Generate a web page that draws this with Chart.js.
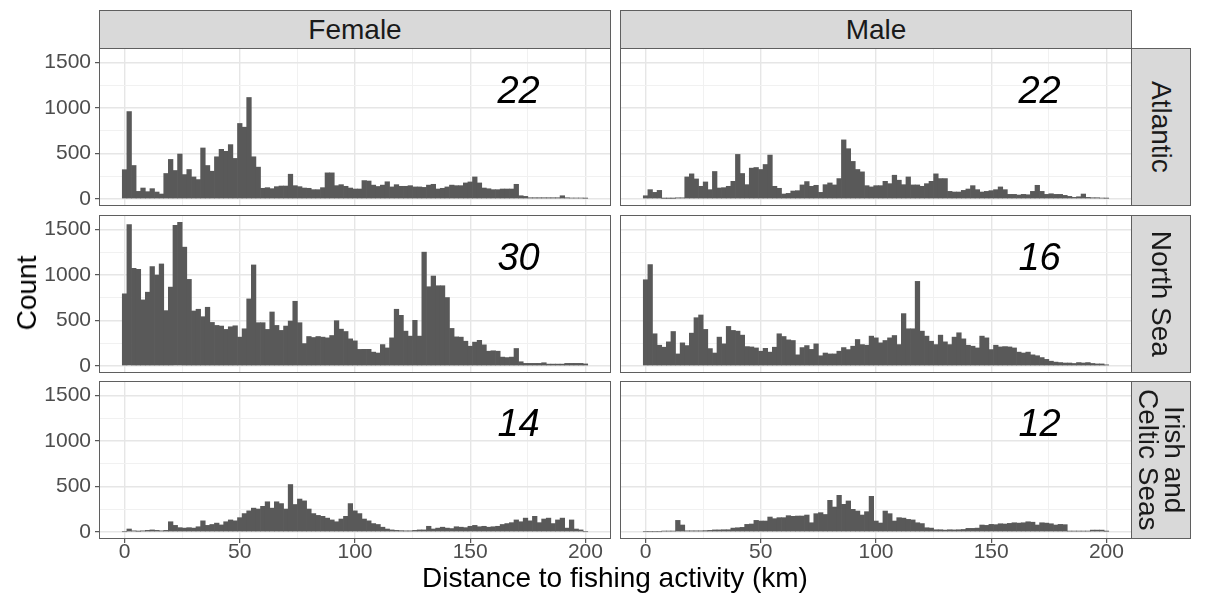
<!DOCTYPE html>
<html>
<head>
<meta charset="utf-8">
<script src="https://cdn.jsdelivr.net/npm/chart.js@4.4.1/dist/chart.umd.min.js"></script>
<style>
  body { margin: 0; background: #fff; font-family: "Liberation Sans", Arial, sans-serif; }
  #wrap { position: relative; width: 1211px; height: 599px; overflow: hidden; }
  canvas { position: absolute; }
  .strip {
    position: absolute; box-sizing: border-box; background: #d9d9d9;
    border: 1px solid #5f5f5f; color: #1a1a1a; font-size: 28px;
    display: flex; align-items: center; justify-content: center;
  }
  .strip span.v { transform: rotate(90deg); white-space: pre; text-align: center; line-height: 0.92; }
  .title { position: absolute; color: #000; font-size: 28px; white-space: nowrap; }
</style>
</head>
<body>
<div id="wrap"></div>
<script>
// histogram bins (2 km wide), counts per facet
const binCenters = [0, 2, 4, 6, 8, 10, 12, 14, 16, 18, 20, 22, 24, 26, 28, 30, 32, 34, 36, 38,
  40, 42, 44, 46, 48, 50, 52, 54, 56, 58, 60, 62, 64, 66, 68, 70, 72, 74, 76, 78,
  80, 82, 84, 86, 88, 90, 92, 94, 96, 98, 100, 102, 104, 106, 108, 110, 112, 114, 116, 118,
  120, 122, 124, 126, 128, 130, 132, 134, 136, 138, 140, 142, 144, 146, 148, 150, 152, 154, 156, 158,
  160, 162, 164, 166, 168, 170, 172, 174, 176, 178, 180, 182, 184, 186, 188, 190, 192, 194, 196, 198, 200];

const femaleAtlantic = [320, 960, 366, 81, 118, 78, 111, 74, 52, 278,
  433, 311, 492, 266, 322, 240, 211, 559, 366, 303,
  462, 544, 522, 596, 444, 829, 788, 1115, 462, 348,
  115, 122, 111, 133, 140, 140, 270, 144, 133, 118,
  115, 100, 100, 122, 285, 285, 144, 155, 137, 118,
  107, 107, 200, 195, 150, 135, 150, 187, 130, 155,
  137, 137, 144, 130, 130, 125, 150, 159, 107, 115,
  130, 150, 144, 144, 174, 185, 240, 174, 118, 110,
  100, 100, 107, 107, 107, 159, 33, 26, 11, 11,
  11, 11, 11, 11, 11, 33, 11, 8, 8, 8,
  5];

const maleAtlantic = [33, 100, 70, 92, 4, 4, 4, 10, 10, 240,
  274, 218, 137, 185, 100, 300, 118, 122, 137, 192,
  488, 278, 155, 337, 344, 322, 377, 481, 137, 115,
  52, 59, 85, 89, 152, 189, 137, 148, 70, 155,
  174, 152, 222, 648, 551, 411, 322, 296, 144, 130,
  144, 144, 192, 166, 259, 204, 155, 240, 152, 152,
  137, 166, 192, 274, 222, 222, 81, 74, 74, 92,
  107, 144, 100, 74, 81, 89, 100, 130, 100, 48,
  48, 41, 48, 44, 81, 148, 81, 48, 55, 48,
  48, 37, 26, 15, 22, 52, 15, 11, 11, 7,
  5];

const femaleNorthSea = [792, 1554, 1073, 1062, 725, 810, 1092, 999, 1121, 607,
  866, 1547, 1580, 1306, 951, 603, 622, 540, 644, 477,
  444, 437, 400, 429, 440, 315, 407, 736, 1110, 474,
  474, 400, 592, 444, 389, 437, 492, 710, 474, 244,
  322, 311, 322, 315, 307, 333, 496, 403, 377, 296,
  274, 180, 181, 181, 150, 140, 233, 196, 307, 622,
  555, 381, 326, 500, 326, 1251, 870, 988, 881, 881,
  751, 411, 318, 315, 270, 215, 260, 280, 230, 160,
  165, 160, 95, 90, 95, 190, 44, 26, 26, 26,
  26, 33, 18, 18, 18, 18, 26, 26, 26, 26,
  20];

const maleNorthSea = [947, 1114, 352, 226, 204, 263, 377, 130, 252, 222,
  359, 529, 559, 400, 189, 140, 315, 241, 433, 389,
  381, 337, 211, 207, 196, 160, 192, 150, 204, 352,
  322, 285, 278, 120, 200, 222, 180, 241, 110, 140,
  130, 130, 160, 200, 178, 215, 289, 233, 226, 326,
  307, 252, 278, 307, 333, 233, 574, 407, 407, 929,
  381, 326, 270, 233, 337, 263, 233, 315, 363, 296,
  226, 215, 196, 326, 307, 178, 226, 207, 211, 207,
  196, 150, 140, 150, 120, 110, 90, 70, 50, 40,
  35, 30, 30, 25, 35, 30, 35, 25, 20, 20,
  10];

const femaleIrishCeltic = [0, 30, 10, 5, 10, 15, 20, 15, 10, 15,
  110, 70, 45, 40, 45, 40, 55, 120, 70, 80,
  95, 75, 110, 130, 120, 155, 200, 230, 260, 250,
  280, 330, 260, 330, 310, 250, 520, 300, 360, 340,
  250, 200, 180, 170, 150, 130, 110, 140, 170, 310,
  230, 200, 140, 120, 90, 80, 50, 30, 20, 15,
  12, 10, 10, 15, 20, 20, 60, 30, 40, 50,
  40, 35, 55, 50, 45, 60, 70, 55, 60, 50,
  55, 60, 80, 90, 100, 130, 110, 150, 120, 170,
  100, 140, 150, 90, 130, 150, 40, 130, 30, 20,
  0];

const maleIrishCeltic = [0, 0, 0, 0, 7, 7, 7, 125, 74, 10,
  10, 10, 10, 12, 15, 20, 20, 22, 22, 40,
  44, 48, 81, 85, 125, 118, 118, 162, 144, 155,
  155, 177, 170, 173, 173, 184, 99, 199, 210, 190,
  346, 272, 401, 302, 339, 247, 228, 184, 221, 390,
  118, 96, 228, 199, 118, 155, 150, 136, 130, 99,
  90, 44, 40, 22, 22, 18, 22, 20, 22, 25,
  37, 37, 40, 74, 70, 81, 78, 88, 85, 92,
  99, 95, 99, 110, 105, 74, 99, 95, 88, 74,
  81, 78, 7, 7, 7, 7, 7, 18, 18, 18,
  5];

// grid positions (labelled ones are multiples of 50 / 500)
const xTickValues = [0, 25, 50, 75, 100, 125, 150, 175, 200];
const yTickValues = [0, 250, 500, 750, 1000, 1250, 1500];

const colNames = ["Female", "Male"];
const rowNames = ["Atlantic", "North Sea", "Irish and\nCeltic Seas"];
const panelCounts = [
  [femaleAtlantic, maleAtlantic],
  [femaleNorthSea, maleNorthSea],
  [femaleIrishCeltic, maleIrishCeltic]
];
const panelNotes = [["22", "22"], ["30", "16"], ["14", "12"]];

// panel geometry
const colLeft = [99, 620];
const panelW = 512;
const rowTop = [48, 215, 381];
const panelH = 158;
const yAxisW = 59;
const xAxisH = 30;

const FONT = '"Liberation Sans", Arial, sans-serif';
Chart.defaults.font.family = FONT;
Chart.defaults.animation = false;

const isMajorX = v => v % 50 === 0;
const isMajorY = v => v % 500 === 0;

// frame, corner number and the outer tick labels of each facet
const panelDecor = {
  id: "panelDecor",
  afterDraw(chart, args, opts) {
    const { ctx, chartArea, scales } = chart;
    ctx.save();
    if (opts.note) {
      ctx.fillStyle = "#000";
      ctx.font = "italic 38px " + FONT;
      ctx.textAlign = "center";
      ctx.textBaseline = "middle";
      ctx.fillText(opts.note, scales.x.getPixelForValue(171), scales.y.getPixelForValue(1170));
    }
    ctx.fillStyle = "#4d4d4d";
    ctx.font = "21px " + FONT;
    if (opts.showY) {
      ctx.textAlign = "right";
      ctx.textBaseline = "middle";
      scales.y.ticks.forEach(t => {
        if (isMajorY(t.value)) ctx.fillText(String(t.value), chartArea.left - 8, scales.y.getPixelForValue(t.value));
      });
    }
    if (opts.showX) {
      ctx.textAlign = "center";
      ctx.textBaseline = "middle";
      scales.x.ticks.forEach(t => {
        if (isMajorX(t.value)) ctx.fillText(String(t.value), scales.x.getPixelForValue(t.value), chartArea.bottom + 13);
      });
    }
    ctx.strokeStyle = "#5f5f5f";
    ctx.lineWidth = 1;
    ctx.strokeRect(chartArea.left + 0.5, chartArea.top + 0.5,
      chartArea.right - chartArea.left - 1, chartArea.bottom - chartArea.top - 1);
    ctx.restore();
  }
};
Chart.register(panelDecor);

const wrap = document.getElementById("wrap");

function addDiv(cls, text, css, rotated) {
  const d = document.createElement("div");
  d.className = cls;
  Object.assign(d.style, css);
  if (rotated) {
    const s = document.createElement("span");
    s.className = "v";
    s.textContent = text;
    d.appendChild(s);
  } else {
    d.textContent = text;
  }
  wrap.appendChild(d);
  return d;
}

function makePanel(r, c) {
  const showY = c === 0;
  const showX = r === 2;
  const left = showY ? colLeft[0] - yAxisW : colLeft[1];
  const width = showY ? panelW + yAxisW : panelW;
  const height = panelH + (showX ? xAxisH : 0);

  const canvas = document.createElement("canvas");
  canvas.width = width;
  canvas.height = height;
  canvas.style.left = left + "px";
  canvas.style.top = rowTop[r] + "px";
  wrap.appendChild(canvas);

  new Chart(canvas, {
    type: "bar",
    data: {
      labels: binCenters,
      datasets: [{
        data: panelCounts[r][c],
        backgroundColor: "#595959",
        borderWidth: 0,
        barPercentage: 1,
        categoryPercentage: 1
      }]
    },
    options: {
      responsive: false,
      layout: { padding: 0 },
      plugins: {
        legend: { display: false },
        tooltip: { enabled: false },
        panelDecor: { note: panelNotes[r][c], showX, showY }
      },
      scales: {
        x: {
          type: "linear",
          min: -11.1,
          max: 211.1,
          bounds: "data",
          offset: false,
          border: { display: false },
          grid: {
            offset: false,
            color: ctx => isMajorX(ctx.tick.value) ? "#e6e6e6" : "#f1f1f1",
            lineWidth: ctx => isMajorX(ctx.tick.value) ? 1.4 : 1,
            drawTicks: showX,
            tickLength: 4,
            tickColor: ctx => isMajorX(ctx.tick.value) ? "#333" : "rgba(0,0,0,0)",
            tickWidth: 1
          },
          ticks: { display: false },
          afterBuildTicks: s => { s.ticks = xTickValues.map(v => ({ value: v })); },
          afterFit: s => { s.height = showX ? xAxisH : 0; }
        },
        y: {
          min: -80,
          max: 1660,
          bounds: "data",
          border: { display: false },
          grid: {
            color: ctx => isMajorY(ctx.tick.value) ? "#e6e6e6" : "#f1f1f1",
            lineWidth: ctx => isMajorY(ctx.tick.value) ? 1.4 : 1,
            drawTicks: showY,
            tickLength: 4,
            tickColor: ctx => isMajorY(ctx.tick.value) ? "#333" : "rgba(0,0,0,0)",
            tickWidth: 1
          },
          ticks: { display: false },
          afterBuildTicks: s => { s.ticks = yTickValues.map(v => ({ value: v })); },
          afterFit: s => { s.width = showY ? yAxisW : 0; }
        }
      }
    }
  });
}

for (let r = 0; r < 3; r++) {
  for (let c = 0; c < 2; c++) makePanel(r, c);
}

// facet strips
colNames.forEach((name, c) => {
  addDiv("strip", name, { left: colLeft[c] + "px", top: "10px", width: panelW + "px", height: "39px" });
});
rowNames.forEach((name, r) => {
  addDiv("strip", name, { left: "1131px", top: rowTop[r] + "px", width: "60px", height: panelH + "px" }, true);
});

// axis titles
addDiv("title", "Distance to fishing activity (km)", {
  left: "615px", top: "578px", transform: "translate(-50%, -50%)"
});
addDiv("title", "Count", {
  left: "27px", top: "293px", transform: "translate(-50%, -50%) rotate(-90deg)"
});
</script>
</body>
</html>
